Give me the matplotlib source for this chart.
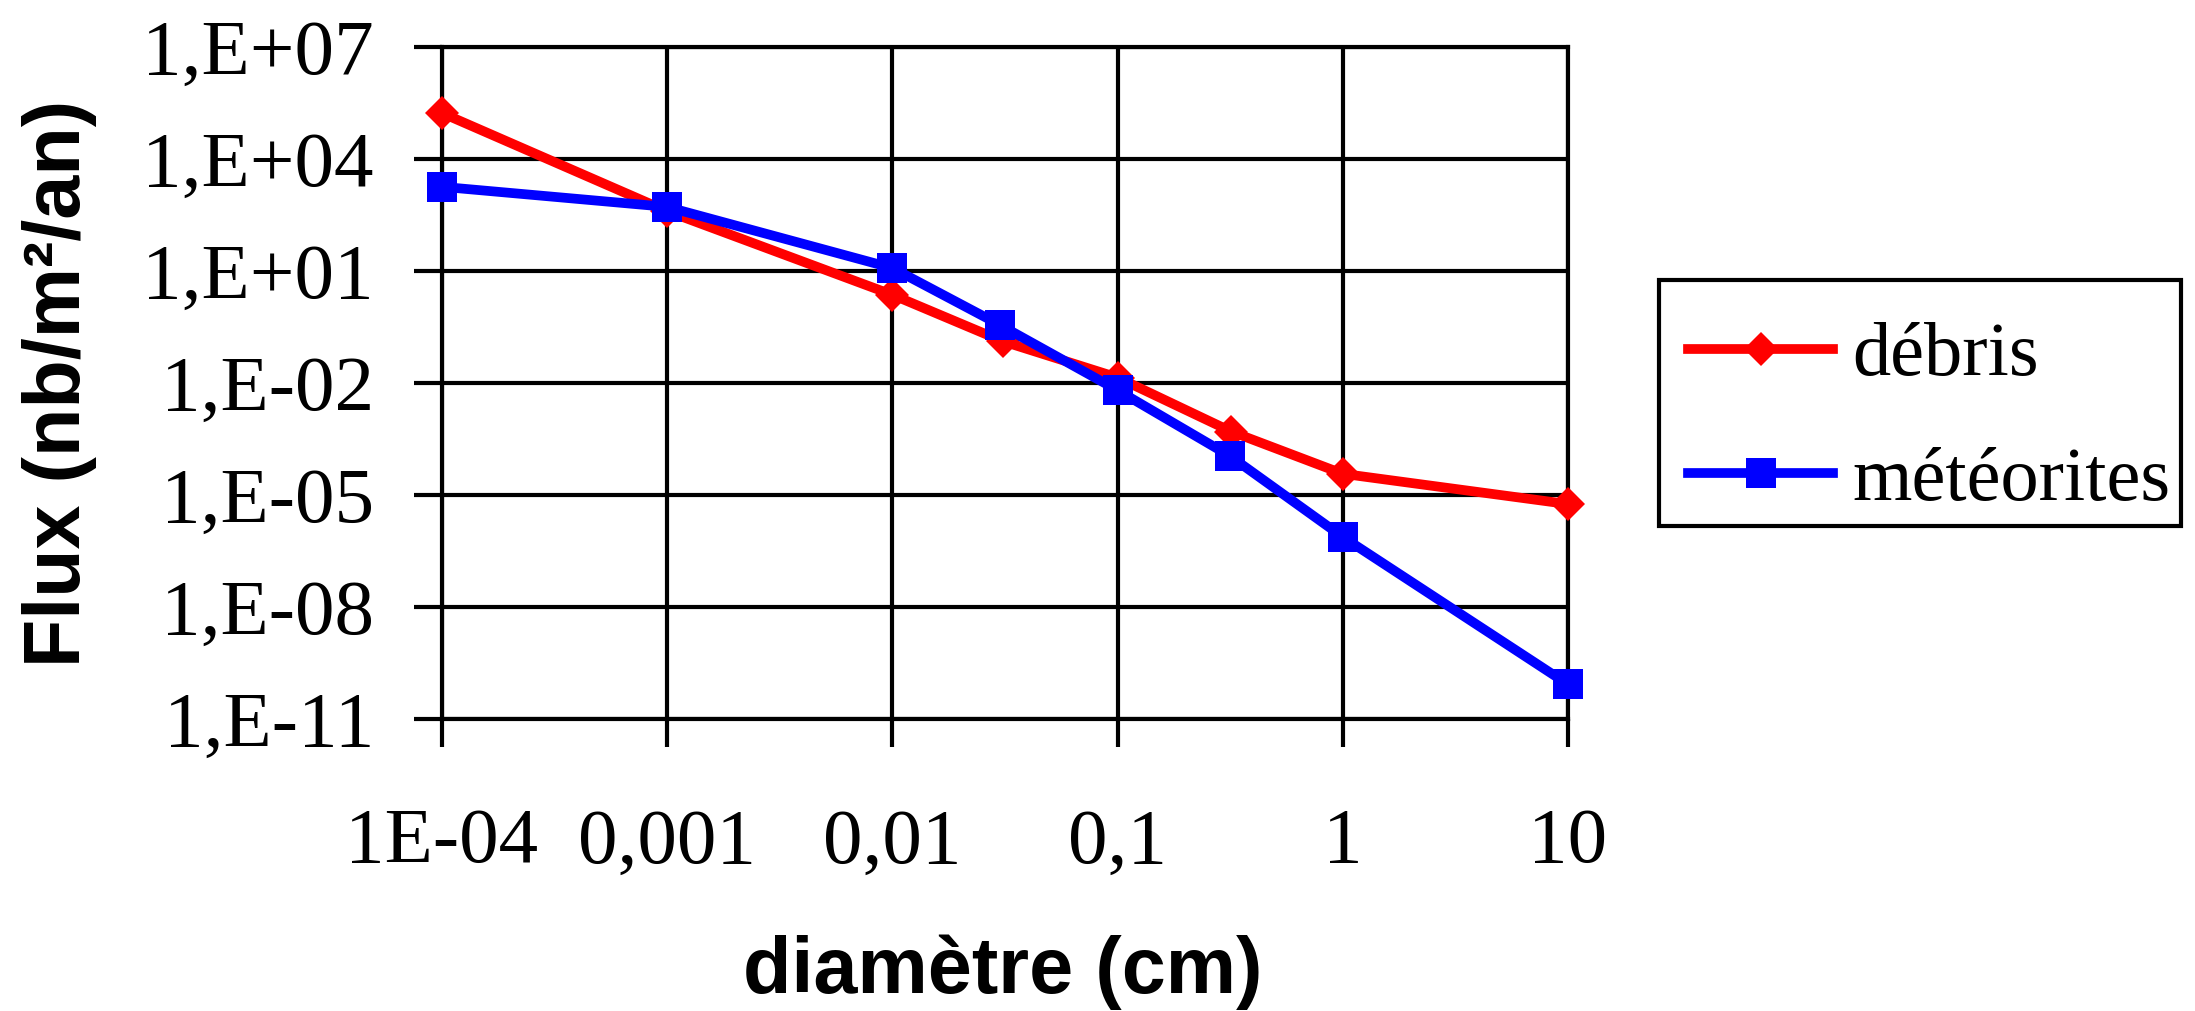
import matplotlib
matplotlib.use("Agg")
import matplotlib.pyplot as plt
from matplotlib.patches import Rectangle

# ---- data ----
diam_debris = [1e-4, 1e-3, 1e-2, 0.031, 0.1, 0.32, 1, 10]
flux_debris = [1.7e5, 400, 2.3, 0.13, 0.014, 5e-4, 3.7e-5, 5.7e-6]

diam_meteor = [1e-4, 1e-3, 1e-2, 0.03, 0.1, 0.316, 1, 10]
flux_meteor = [1.8e3, 520, 12, 0.36, 0.0064, 1.1e-4, 7.5e-7, 8.5e-11]

series_names = ["débris", "météorites"]

x_ticks = [1e-4, 1e-3, 1e-2, 0.1, 1, 10]
x_ticklabels = ["1E-04", "0,001", "0,01", "0,1", "1", "10"]
y_ticks = [1e-11, 1e-8, 1e-5, 1e-2, 1e1, 1e4, 1e7]
y_ticklabels = ["1,E-11", "1,E-08", "1,E-05", "1,E-02", "1,E+01", "1,E+04", "1,E+07"]

W, H = 2195, 1011
fig = plt.figure(figsize=(W / 100, H / 100), dpi=100)
fig.patch.set_facecolor("white")

left, right, top, bottom = 442, 1568, 47, 719
ax = fig.add_axes([left / W, 1 - bottom / H, (right - left) / W, (bottom - top) / H])

ax.set_xscale("log")
ax.set_yscale("log")
ax.set_xlim(1e-4, 10)
ax.set_ylim(1e-11, 1e7)

grid_lw = 3
ax.set_xticks(x_ticks)
ax.set_xticklabels(x_ticklabels)
ax.set_yticks(y_ticks)
ax.set_yticklabels(y_ticklabels)
ax.minorticks_off()
ax.grid(True, which="major", color="black", linewidth=grid_lw)
ax.set_axisbelow(True)
for s in ax.spines.values():
    s.set_linewidth(grid_lw)
    s.set_color("black")

serif = "Liberation Serif"
ax.tick_params(axis="both", which="major", direction="out", length=20,
               width=grid_lw, color="black", labelsize=57)
ax.tick_params(axis="x", pad=44)
ax.tick_params(axis="y", pad=29)
for lab in ax.get_xticklabels() + ax.get_yticklabels():
    lab.set_fontfamily(serif)

ax.plot(diam_debris, flux_debris, color="#ff0000", linewidth=7, marker="D",
        markersize=17, markeredgewidth=0, label=series_names[0], clip_on=False, zorder=3)
ax.plot(diam_meteor, flux_meteor, color="#0000ff", linewidth=7, marker="s",
        markersize=21, markeredgewidth=0, label=series_names[1], clip_on=False, zorder=4)

fig.text(60 / W, 1 - 383 / H, "Flux (nb/m²/an)", rotation=90, ha="center", va="center",
         fontsize=57, fontweight="bold", fontfamily="Liberation Sans")
fig.text(1003 / W, 1 - 972 / H, "diamètre (cm)", ha="center", va="center",
         fontsize=57, fontweight="bold", fontfamily="Liberation Sans")

# legend entries (no frame) centred between the two rows, frame drawn separately
leg = fig.legend(loc="center left", bbox_to_anchor=(1688 / W, 1 - 419 / H),
                 bbox_transform=fig.transFigure, borderaxespad=0,
                 prop={"family": serif, "size": 55}, frameon=False,
                 handlelength=1.9, handletextpad=0.25,
                 labelspacing=0.72, borderpad=0.0)
fig.add_artist(Rectangle((1659 / W, 1 - 526 / H), (2181 - 1659) / W, (526 - 280) / H,
                         transform=fig.transFigure, fill=False, edgecolor="black",
                         linewidth=3, zorder=5))

fig.savefig("out.png", dpi=100, facecolor="white")
